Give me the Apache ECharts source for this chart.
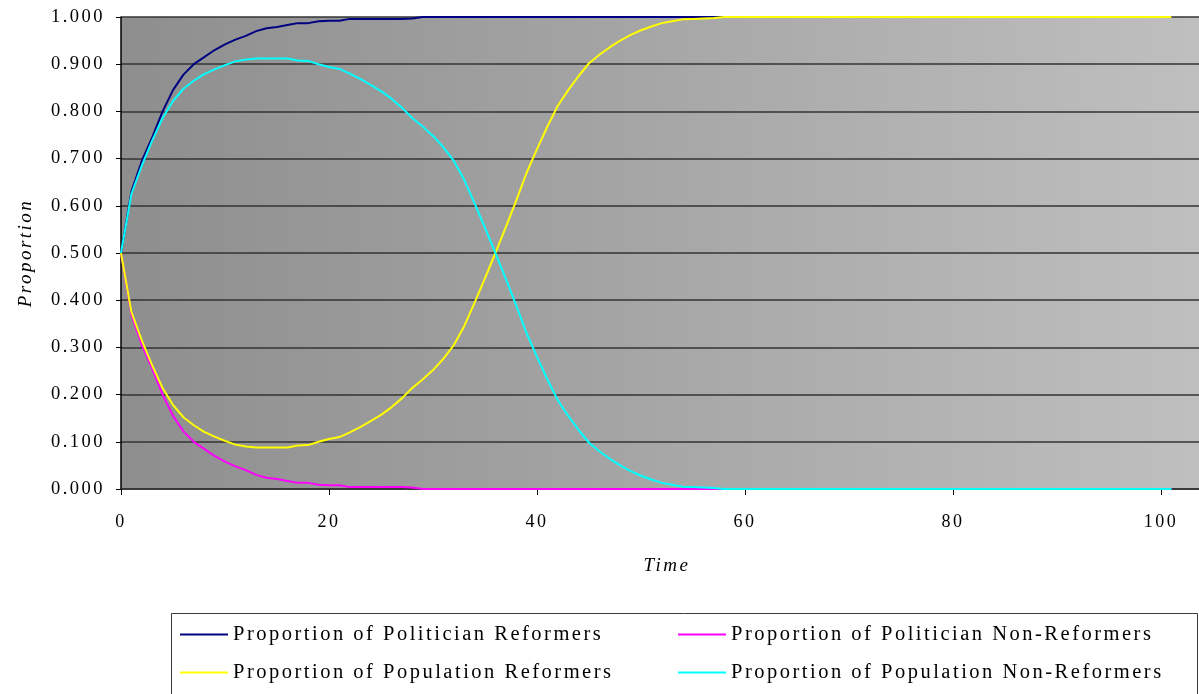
<!DOCTYPE html>
<html>
<head>
<meta charset="utf-8">
<title>Proportion over Time</title>
<script src="https://cdn.jsdelivr.net/npm/echarts@6/dist/echarts.min.js"></script>
<style>
  html, body { margin: 0; padding: 0; background: #ffffff; }
  #chart { width: 1199px; height: 694px; }
</style>
</head>
<body>
<div id="chart"></div>
<script>
// Simulation time steps
const times = [
  0, 1, 2, 3, 4, 5, 6, 7, 8, 9,
  10, 11, 12, 13, 14, 15, 16, 17, 18, 19,
  20, 21, 22, 23, 24, 25, 26, 27, 28, 29,
  30, 31, 32, 33, 34, 35, 36, 37, 38, 39,
  40, 41, 42, 43, 44, 45, 46, 47, 48, 49,
  50, 51, 52, 53, 54, 55, 56, 57, 58, 59,
  60, 61, 62, 63, 64, 65, 66, 67, 68, 69,
  70, 71, 72, 73, 74, 75, 76, 77, 78, 79,
  80, 81, 82, 83, 84, 85, 86, 87, 88, 89,
  90, 91, 92, 93, 94, 95, 96, 97, 98, 99,
  100, 101
];

const politicianReformers = [
  0.500, 0.630, 0.695, 0.745, 0.800, 0.845, 0.878, 0.900, 0.915, 0.930,
  0.942, 0.952, 0.960, 0.970, 0.976, 0.979, 0.983, 0.987, 0.987, 0.991,
  0.992, 0.992, 0.996, 0.996, 0.996, 0.996, 0.996, 0.996, 0.997, 1.000,
  1.000, 1.000, 1.000, 1.000, 1.000, 1.000, 1.000, 1.000, 1.000, 1.000,
  1.000, 1.000, 1.000, 1.000, 1.000, 1.000, 1.000, 1.000, 1.000, 1.000,
  1.000, 1.000, 1.000, 1.000, 1.000, 1.000, 1.000, 1.000, 1.000, 1.000,
  1.000, 1.000, 1.000, 1.000, 1.000, 1.000, 1.000, 1.000, 1.000, 1.000,
  1.000, 1.000, 1.000, 1.000, 1.000, 1.000, 1.000, 1.000, 1.000, 1.000,
  1.000, 1.000, 1.000, 1.000, 1.000, 1.000, 1.000, 1.000, 1.000, 1.000,
  1.000, 1.000, 1.000, 1.000, 1.000, 1.000, 1.000, 1.000, 1.000, 1.000,
  1.000, 1.000
];

const politicianNonReformers = [
  0.500, 0.370, 0.305, 0.255, 0.200, 0.155, 0.122, 0.100, 0.085, 0.070,
  0.058, 0.048, 0.040, 0.030, 0.024, 0.021, 0.017, 0.013, 0.013, 0.009,
  0.008, 0.008, 0.004, 0.004, 0.004, 0.004, 0.004, 0.004, 0.003, 0.000,
  0.000, 0.000, 0.000, 0.000, 0.000, 0.000, 0.000, 0.000, 0.000, 0.000,
  0.000, 0.000, 0.000, 0.000, 0.000, 0.000, 0.000, 0.000, 0.000, 0.000,
  0.000, 0.000, 0.000, 0.000, 0.000, 0.000, 0.000, 0.000, 0.000, 0.000,
  0.000, 0.000, 0.000, 0.000, 0.000, 0.000, 0.000, 0.000, 0.000, 0.000,
  0.000, 0.000, 0.000, 0.000, 0.000, 0.000, 0.000, 0.000, 0.000, 0.000,
  0.000, 0.000, 0.000, 0.000, 0.000, 0.000, 0.000, 0.000, 0.000, 0.000,
  0.000, 0.000, 0.000, 0.000, 0.000, 0.000, 0.000, 0.000, 0.000, 0.000,
  0.000, 0.000
];

const populationReformers = [
  0.500, 0.375, 0.315, 0.262, 0.214, 0.178, 0.152, 0.135, 0.121, 0.111,
  0.102, 0.094, 0.090, 0.088, 0.088, 0.088, 0.088, 0.092, 0.093, 0.100,
  0.106, 0.110, 0.120, 0.131, 0.144, 0.157, 0.173, 0.192, 0.214, 0.232,
  0.252, 0.276, 0.305, 0.345, 0.395, 0.447, 0.500, 0.555, 0.611, 0.670,
  0.720, 0.768, 0.812, 0.845, 0.875, 0.902, 0.920, 0.936, 0.950, 0.962,
  0.972, 0.980, 0.987, 0.991, 0.995, 0.996, 0.997, 0.998, 1.000, 1.000,
  1.000, 1.000, 1.000, 1.000, 1.000, 1.000, 1.000, 1.000, 1.000, 1.000,
  1.000, 1.000, 1.000, 1.000, 1.000, 1.000, 1.000, 1.000, 1.000, 1.000,
  1.000, 1.000, 1.000, 1.000, 1.000, 1.000, 1.000, 1.000, 1.000, 1.000,
  1.000, 1.000, 1.000, 1.000, 1.000, 1.000, 1.000, 1.000, 1.000, 1.000,
  1.000, 1.000
];

const populationNonReformers = [
  0.500, 0.625, 0.685, 0.738, 0.786, 0.822, 0.848, 0.865, 0.879, 0.889,
  0.898, 0.906, 0.910, 0.912, 0.912, 0.912, 0.912, 0.908, 0.907, 0.900,
  0.894, 0.890, 0.880, 0.869, 0.856, 0.843, 0.827, 0.808, 0.786, 0.768,
  0.748, 0.724, 0.695, 0.655, 0.605, 0.553, 0.500, 0.445, 0.389, 0.330,
  0.280, 0.232, 0.188, 0.155, 0.125, 0.098, 0.080, 0.064, 0.050, 0.038,
  0.028, 0.020, 0.013, 0.009, 0.005, 0.004, 0.003, 0.002, 0.000, 0.000,
  0.000, 0.000, 0.000, 0.000, 0.000, 0.000, 0.000, 0.000, 0.000, 0.000,
  0.000, 0.000, 0.000, 0.000, 0.000, 0.000, 0.000, 0.000, 0.000, 0.000,
  0.000, 0.000, 0.000, 0.000, 0.000, 0.000, 0.000, 0.000, 0.000, 0.000,
  0.000, 0.000, 0.000, 0.000, 0.000, 0.000, 0.000, 0.000, 0.000, 0.000,
  0.000, 0.000
];

const seriesNames = [
  'Proportion of Politician Reformers',
  'Proportion of Politician Non-Reformers',
  'Proportion of Population Reformers',
  'Proportion of Population Non-Reformers'
];
const seriesColors = ['#000080', '#ff00ff', '#ffff00', '#00ffff'];
const seriesValues = [politicianReformers, politicianNonReformers, populationReformers, populationNonReformers];

// Axis settings
const xTickStep = 20;
const xMax = 103.65;
const yTickStep = 0.1;
const xAxisTitle = 'Time';
const yAxisTitle = 'Proportion';

const FONT = "Liberation Serif, DejaVu Serif, serif";

// Wide letter spacing for every label drawn on the canvas
const baseFillText = CanvasRenderingContext2D.prototype.fillText;
CanvasRenderingContext2D.prototype.fillText = function () {
  this.letterSpacing = '2.5px';
  return baseFillText.apply(this, arguments);
};

const chart = echarts.init(document.getElementById('chart'), null, { renderer: 'canvas' });

const series = seriesNames.map((name, s) => ({
  name: name,
  type: 'line',
  data: times.map((t, i) => [t, seriesValues[s][i]]),
  showSymbol: false,
  symbol: 'none',
  clip: false,
  lineStyle: { color: seriesColors[s], width: 2 },
  itemStyle: { color: seriesColors[s] },
  emphasis: { disabled: true },
  animation: false
}));

const legendCommon = {
  orient: 'vertical',
  top: 624,
  padding: 0,
  icon: 'rect',
  itemWidth: 48,
  itemHeight: 2,
  itemGap: 17,
  selectedMode: false,
  itemStyle: { borderWidth: 0 },
  textStyle: { fontFamily: FONT, fontSize: 20.5, lineHeight: 20, color: '#000000' }
};

chart.setOption({
  animation: false,
  backgroundColor: '#ffffff',
  grid: {
    left: 121,
    top: 17,
    right: 0,
    bottom: 205,
    show: true,
    borderWidth: 0,
    outerBoundsMode: 'none',
    backgroundColor: {
      type: 'linear', x: 0, y: 0, x2: 1, y2: 0,
      colorStops: [
        { offset: 0, color: '#8e8e8e' },
        { offset: 1, color: '#bfbfbf' }
      ]
    }
  },
  graphic: [{
    type: 'rect',
    z: 0,
    shape: { x: 171.5, y: 613.5, width: 1026, height: 100 },
    style: { fill: '#ffffff', stroke: '#3a3a3a', lineWidth: 1 }
  }],
  legend: [
    Object.assign({ left: 180, data: [seriesNames[0], seriesNames[2]] }, legendCommon),
    Object.assign({ left: 678, data: [seriesNames[1], seriesNames[3]] }, legendCommon)
  ],
  xAxis: {
    type: 'value',
    min: 0,
    max: xMax,
    interval: xTickStep,
    name: xAxisTitle,
    nameLocation: 'middle',
    nameGap: 67,
    nameTextStyle: { fontFamily: FONT, fontSize: 19, fontStyle: 'italic', color: '#000000', padding: [0, 0, 0, 14] },
    axisLine: { show: true, onZero: false, lineStyle: { color: '#303030', width: 1.5 } },
    axisTick: { show: true, inside: false, length: 6, lineStyle: { color: '#000000', width: 1 } },
    axisLabel: {
      show: true, margin: 24, showMaxLabel: false,
      fontFamily: FONT, fontSize: 18, color: '#000000',
      formatter: v => String(v)
    },
    splitLine: { show: false }
  },
  yAxis: {
    type: 'value',
    min: 0,
    max: 1,
    interval: yTickStep,
    name: yAxisTitle,
    nameLocation: 'middle',
    nameRotate: 90,
    nameGap: 86,
    nameTextStyle: { fontFamily: FONT, fontSize: 19, fontStyle: 'italic', color: '#000000' },
    axisLine: { show: true, lineStyle: { color: '#000000', width: 1.5 } },
    axisTick: { show: true, inside: false, length: 5, lineStyle: { color: '#000000', width: 1 } },
    axisLabel: {
      show: true, margin: 16,
      fontFamily: FONT, fontSize: 18.5, color: '#000000',
      formatter: v => v.toFixed(3)
    },
    splitLine: { show: true, lineStyle: { color: '#333333', width: 1.5 } }
  },
  series: series
});
</script>
</body>
</html>
